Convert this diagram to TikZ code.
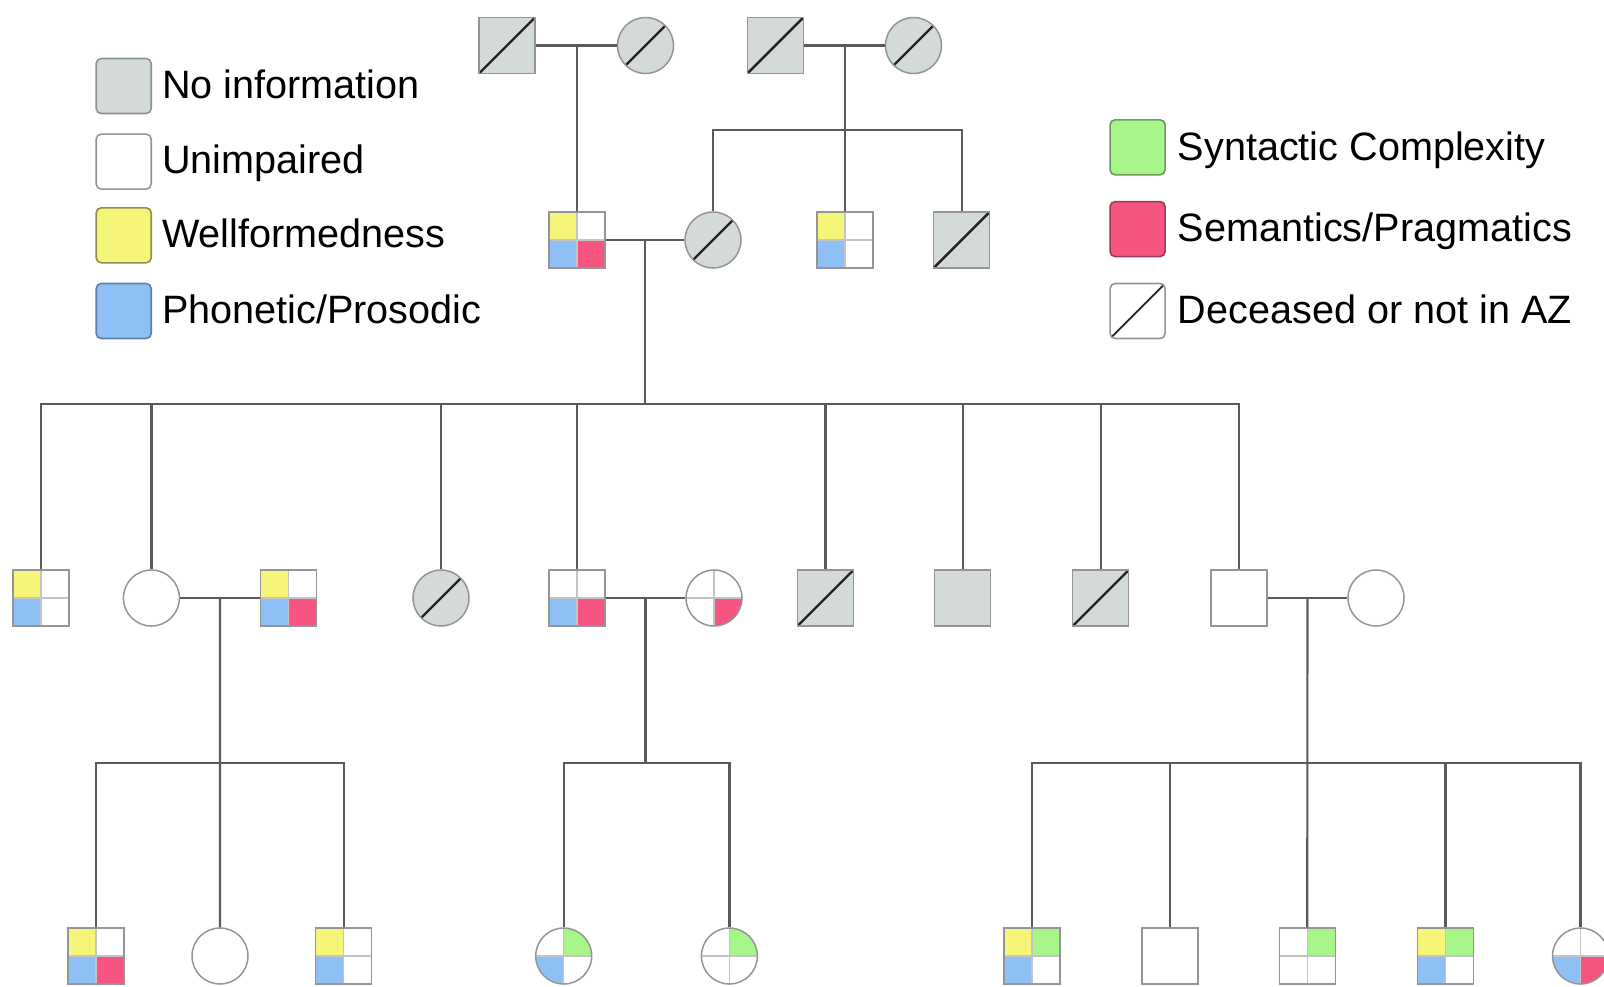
\documentclass[tikz,border=0pt]{standalone}
\usepackage{fontspec}
\setmainfont{Liberation Sans}
\usetikzlibrary{calc}
\definecolor{nogray}{HTML}{D3DAD8}
\definecolor{nograyd}{HTML}{8C9391}
\definecolor{yel}{HTML}{F5F57A}
\definecolor{yeld}{HTML}{8E8E50}
\definecolor{blu}{HTML}{8EC0F5}
\definecolor{blud}{HTML}{5C7FA8}
\definecolor{red}{HTML}{F5557F}
\definecolor{redd}{HTML}{9A3A55}
\definecolor{grn}{HTML}{A8F58A}
\definecolor{grnd}{HTML}{6A9A5A}
\definecolor{outl}{HTML}{959595}
\definecolor{connc}{HTML}{5A5A5A}
\definecolor{slashc}{HTML}{222222}
\definecolor{crossc}{HTML}{C4C4C4}
\begin{document}
\begin{tikzpicture}[x=0.5pt,y=-0.5pt,
 person/.style={draw=outl, line width=0.75pt, minimum size=28pt, inner sep=0pt, fill=white},
 sqp/.style={person, rectangle},
 cip/.style={person, circle},
 noinfo/.style={fill=nogray},
 dead/.style={fill=nogray, path picture={\draw[slashline] (path picture bounding box.south west) -- (path picture bounding box.north east);}},
 quads/.style n args={4}{path picture={
   \fill[#1] (path picture bounding box.north west) rectangle (path picture bounding box.center);
   \fill[#2] (path picture bounding box.north east) rectangle (path picture bounding box.center);
   \fill[#3] (path picture bounding box.south west) rectangle (path picture bounding box.center);
   \fill[#4] (path picture bounding box.south east) rectangle (path picture bounding box.center);
   \draw[crossline] (path picture bounding box.north) -- (path picture bounding box.south)
                    (path picture bounding box.west) -- (path picture bounding box.east);}},
 slashline/.style={draw=slashc, line width=1.2pt},
 crossline/.style={draw=crossc, line width=0.6pt},
 conn/.style={draw=connc, line width=1.1pt},
 legbox/.style={rounded corners=2.5pt, minimum size=27.5pt, inner sep=0pt, line width=0.8pt},
 legtext/.style={anchor=mid west, inner sep=0pt, font=\fontsize{19.8}{23}\selectfont, text=black},
]
\useasboundingbox (0,0) rectangle (1604,986);
\clip (0,0) rectangle (1604,986);

% ---- legend ----
\node[legbox, draw=nograyd, fill=nogray] (L1) at (123.7,86) {};
\node[legbox, draw=outl, fill=white] (L2) at (123.7,161.6) {};
\node[legbox, draw=yeld, fill=yel] (L3) at (123.7,235.3) {};
\node[legbox, draw=blud, fill=blu] (L4) at (123.7,311) {};
\node[legtext] (T1) at (161.6,93) {No information};
\node[legtext] (T2) at (161.6,168.6) {Unimpaired};
\node[legtext] (T3) at (161.6,242.3) {Wellformedness};
\node[legtext] (T4) at (161.6,318) {Phonetic/Prosodic};

\node[legbox, draw=grnd, fill=grn] (R1) at (1137.6,147.3) {};
\node[legbox, draw=redd, fill=red] (R2) at (1137.6,229.1) {};
\node[legbox, draw=outl, fill=white, path picture={\draw[slashc, line width=0.9pt] (path picture bounding box.south west) -- (path picture bounding box.north east);}] (R3) at (1137.6,311) {};
\node[legtext] (U1) at (1177.5,155.3) {Syntactic Complexity};
\node[legtext] (U2) at (1177.5,236.1) {Semantics/Pragmatics};
\node[legtext] (U3) at (1177.5,318) {Deceased or not in AZ};

% ---- generation I ----
\node[sqp,dead] (g1m) at (507,45.5) {};
\node[cip,dead] (g1f) at (645.5,45.5) {};
\node[sqp,dead] (g2m) at (775.4,45.5) {};
\node[cip,dead] (g2f) at (913.5,45.5) {};

% ---- generation II ----
\node[sqp,quads={yel}{white}{blu}{red}] (A) at (577,240) {};
\node[cip,dead] (B) at (713,240) {};
\node[sqp,quads={yel}{white}{blu}{white}] (C) at (845,240) {};
\node[sqp,dead] (D) at (961.6,240) {};

% ---- generation III ----
\node[sqp,quads={yel}{white}{blu}{white}] (c1) at (41,598) {};
\node[cip] (c2) at (151.4,598) {};
\node[sqp,quads={yel}{white}{blu}{red}] (s2) at (288.5,598) {};
\node[cip,dead] (c3) at (441,598) {};
\node[sqp,quads={white}{white}{blu}{red}] (c4) at (577,598) {};
\node[cip,quads={white}{white}{white}{red}] (s4) at (714,598) {};
\node[sqp,dead] (c5) at (825.5,598) {};
\node[sqp,noinfo] (c6) at (962.6,598) {};
\node[sqp,dead] (c7) at (1100.7,598) {};
\node[sqp] (c8) at (1238.8,598) {};
\node[cip] (s8) at (1376,598) {};

% ---- generation IV ----
\node[sqp,quads={yel}{white}{blu}{red}] (k1) at (96,956) {};
\node[cip] (k2) at (220,956) {};
\node[sqp,quads={yel}{white}{blu}{white}] (k3) at (343.7,956) {};
\node[cip,quads={white}{grn}{blu}{white}] (k4) at (563.7,956) {};
\node[cip,quads={white}{grn}{white}{white}] (k5) at (729.4,956) {};
\node[sqp,quads={yel}{grn}{blu}{white}] (k6) at (1032,956) {};
\node[sqp] (k7) at (1170,956) {};
\node[sqp,quads={white}{grn}{white}{white}] (k8) at (1307.3,956) {};
\node[sqp,quads={yel}{grn}{blu}{white}] (k9) at (1445.4,956) {};
\node[cip,quads={white}{white}{blu}{red}] (k10) at (1580.5,956) {};

% ---- connectors ----
\coordinate (sib1) at (0,130);
\coordinate (sib2) at (0,404);
\coordinate (sib3) at (0,763);

\draw[conn] (g1m.east) -- (g1f.west);
\draw[conn] (A.north) -- (A.north |- g1m.east);
\draw[conn] (g2m.east) -- (g2f.west);
\draw[conn] (C.north) -- (C.north |- g2m.east);
\draw[conn] (B.north) -- (B.north |- sib1) -- (D.north |- sib1) -- (D.north);

\draw[conn] (A.east) -- (B.west);
\coordinate (u3) at ($(A.east)!0.5!(B.west)$);
\draw[conn] (u3) -- (u3 |- sib2);
\draw[conn] (c1.north) -- (c1.north |- sib2) -- (c8.north |- sib2) -- (c8.north);
\foreach \n in {c2,c3,c4,c5,c6,c7} \draw[conn] (\n.north) -- (\n.north |- sib2);

\draw[conn] (c2.east) -- (s2.west);
\coordinate (u4) at ($(c2.east)!0.5!(s2.west)$);
\draw[conn] (u4) -- (k2.north);
\draw[conn] (k1.north) -- (k1.north |- sib3) -- (k3.north |- sib3) -- (k3.north);

\draw[conn] (c4.east) -- (s4.west);
\coordinate (u5) at ($(c4.east)!0.5!(s4.west)$);
\draw[conn] (u5) -- (u5 |- sib3);
\draw[conn] (k4.north) -- (k4.north |- sib3) -- (k5.north |- sib3) -- (k5.north);

\draw[conn] (c8.east) -- (s8.west);
\coordinate (u6) at ($(c8.east)!0.5!(s8.west)$);
\draw[conn] (u6) -- (k8.north);
\draw[conn] (k6.north) -- (k6.north |- sib3) -- (k10.north |- sib3) -- (k10.north);
\foreach \n in {k7,k9} \draw[conn] (\n.north) -- (\n.north |- sib3);
\end{tikzpicture}
\end{document}
